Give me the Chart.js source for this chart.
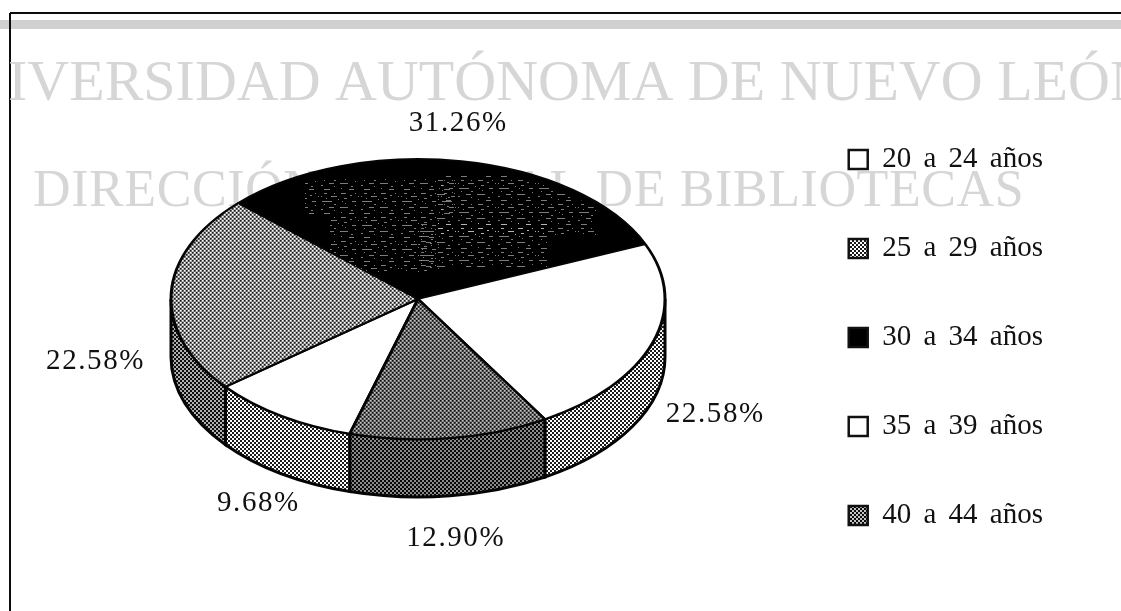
<!DOCTYPE html>
<html><head><meta charset="utf-8">
<style>html,body{margin:0;padding:0;background:#fff}canvas{display:block}</style>
<script src="https://cdn.jsdelivr.net/npm/chart.js@4"></script>
</head><body>
<canvas id="c" width="1121" height="611"></canvas>
<script>
const categories = ['20 a 24 años','25 a 29 años','30 a 34 años','35 a 39 años','40 a 44 años'];
const shares = [9.68, 22.58, 31.26, 22.58, 12.90];
const watermarkTop = 'IVERSIDAD AUTÓNOMA DE NUEVO LEÓN';
const watermarkBottom = 'DIRECCIÓN GENERAL DE BIBLIOTECAS';

const CX = 418, CY = 299, RX = 247, RY = 140, DEPTH = 58, SY = RY / RX, LABEL_K = 1.27;
const LABEL_NUDGE = [[14,-6],[-9,7],[-15,-1],[-1,-2],[-3,1]];
const canvas = document.getElementById('c');
const ctx0 = canvas.getContext('2d');

function tile(rows, ink, paper, scaleY) {
  const t = document.createElement('canvas');
  t.width = rows[0].length; t.height = rows.length;
  const g = t.getContext('2d');
  rows.forEach((r, y) => [...r].forEach((ch, x) => {
    const col = ch === '#' ? ink : paper;
    if (col) { g.fillStyle = col; g.fillRect(x, y, 1, 1); }
  }));
  const p = ctx0.createPattern(t, 'repeat');
  if (scaleY) p.setTransform(new DOMMatrix().scale(1, scaleY));
  return p;
}
const half = ['##..','##..','..##','..##'];
const fills = [
  () => '#ffffff',
  s => tile(half, '#1a1a1a', '#ffffff', s),
  () => '#000000',
  () => '#ffffff',
  s => tile(half, '#0c0c0c', '#c4c4c4', s)
];
const sideFills = [
  tile(half, '#1c1c1c', '#ffffff'),
  tile(half, '#0e0e0e', '#b0b0b0'),
  '#000000',
  tile(half, '#1c1c1c', '#ffffff'),
  tile(half, '#080808', '#8c8c8c')
];
const speckle = tile([
  '........................................',
  '....###.......#......#####.........#....',
  '........................................',
  '..............................##........',
  '.#.........######.....................#.',
  '........................................',
  '......#.................###.............',
  '..................#.....................',
  '........................................',
  '..##########..........#.........####....',
  '........................................',
  '.........................#..............',
  '....#.........##........................',
  '...................................#....',
  '........................................',
  '.........#####......########............',
  '........................................',
  '.##.....................................',
  '..............#................##.......',
  '........................................',
  '.....................#..................',
  '....######...................#####......',
  '........................................',
  '........................................'
], 'rgba(225,225,225,0.55)', null);

const scene = {
  id: 'scene',
  afterInit(chart) { chart.ctx.wordSpacing = '5px'; },
  beforeDatasetsDraw(chart) {
    const c = chart.ctx, arcs = chart.getDatasetMeta(0).data;
    c.save();
    c.lineWidth = 3; c.strokeStyle = '#050505';
    arcs.forEach((arc, i) => {
      let a = arc.startAngle, b = arc.endAngle;
      const twoPi = Math.PI * 2;
      while (a >= Math.PI) { a -= twoPi; b -= twoPi; }
      while (a < -Math.PI) { a += twoPi; b += twoPi; }
      a = Math.max(a, 0); b = Math.min(b, Math.PI);
      if (b <= a) return;
      c.beginPath();
      c.ellipse(CX, CY, RX, RY, 0, a, b);
      c.ellipse(CX, CY + DEPTH, RX, RY, 0, b, a, true);
      c.closePath();
      c.fillStyle = sideFills[i];
      c.fill(); c.stroke();
    });
    c.restore();
    c.save();
    const first = arcs[0];
    c.translate(CX, CY);
    c.scale(1, SY);
    c.translate(-first.x, -first.y);
  },
  afterDatasetsDraw(chart) {
    const c = chart.ctx, arcs = chart.getDatasetMeta(0).data;
    c.restore();
    const dark = arcs[2];
    c.save();
    c.beginPath();
    c.moveTo(CX, CY);
    c.ellipse(CX, CY, RX - 6, RY - 6, 0, dark.startAngle, dark.endAngle);
    c.closePath();
    c.clip();
    c.fillStyle = speckle;
    c.fillRect(305, 178, 150, 36);
    c.fillRect(330, 214, 110, 58);
    c.translate(17, 11);
    c.fillRect(420, 165, 160, 60);
    c.fillRect(400, 212, 130, 44);
    c.restore();
    c.save();
    c.font = '29px "Liberation Serif"';
    c.letterSpacing = '1.6px';
    c.fillStyle = '#111';
    c.textAlign = 'center';
    c.textBaseline = 'middle';
    arcs.forEach((arc, i) => {
      const mid = (arc.startAngle + arc.endAngle) / 2;
      const ux = Math.cos(mid), uy = Math.sin(mid);
      const x = CX + RX * LABEL_K * ux + LABEL_NUDGE[i][0];
      const y = CY + RY * LABEL_K * uy + (uy > -0.1 ? DEPTH + 4 : 0) + LABEL_NUDGE[i][1];
      c.fillText(shares[i].toFixed(2) + '%', x, y);
    });
    c.restore();
  },
  beforeDraw(chart) {
    const c = chart.ctx;
    c.save();
    c.fillStyle = '#fff'; c.fillRect(0, 0, 1121, 611);
    c.fillStyle = '#d0d0d0'; c.fillRect(0, 20, 1121, 9);
    c.fillStyle = '#0c0c0c';
    c.fillRect(10, 12, 1111, 2);
    c.fillRect(9, 13, 2, 598);
    c.fillStyle = '#d6d6d6';
    c.textAlign = 'left'; c.textBaseline = 'alphabetic';
    c.font = '58px "Liberation Serif"';
    c.wordSpacing = '0px';
    c.fillText(watermarkTop, 8, 100);
    c.font = '52px "Liberation Serif"';
    c.letterSpacing = '0.6px';
    c.fillText(watermarkBottom, 33, 206);
    c.restore();
  }
};

const legendFills = fills.map(f => f(0));
new Chart(canvas, {
  type: 'pie',
  data: {
    labels: categories,
    datasets: [{
      data: shares,
      backgroundColor: fills.map(f => f(1 / SY)),
      borderColor: '#050505',
      borderWidth: 3,
      borderAlign: 'center',
      radius: RX,
      clip: false
    }]
  },
  plugins: [scene],
  options: {
    responsive: false,
    animation: false,
    events: [],
    rotation: 196,
    layout: { padding: { top: 64, right: 68, left: 0, bottom: 0 } },
    plugins: {
      tooltip: { enabled: false },
      legend: {
        position: 'right',
        align: 'center',
        labels: {
          boxWidth: 19,
          boxHeight: 19,
          padding: 60,
          color: '#111',
          font: { family: '"Liberation Serif"', size: 29 },
          generateLabels(chart) {
            const items = Chart.overrides.pie.plugins.legend.labels.generateLabels(chart);
            items.forEach((it, i) => {
              it.fillStyle = legendFills[i];
              it.strokeStyle = '#111';
              it.lineWidth = 2.5;
            });
            return items;
          }
        }
      }
    }
  }
});
</script>
</body></html>
